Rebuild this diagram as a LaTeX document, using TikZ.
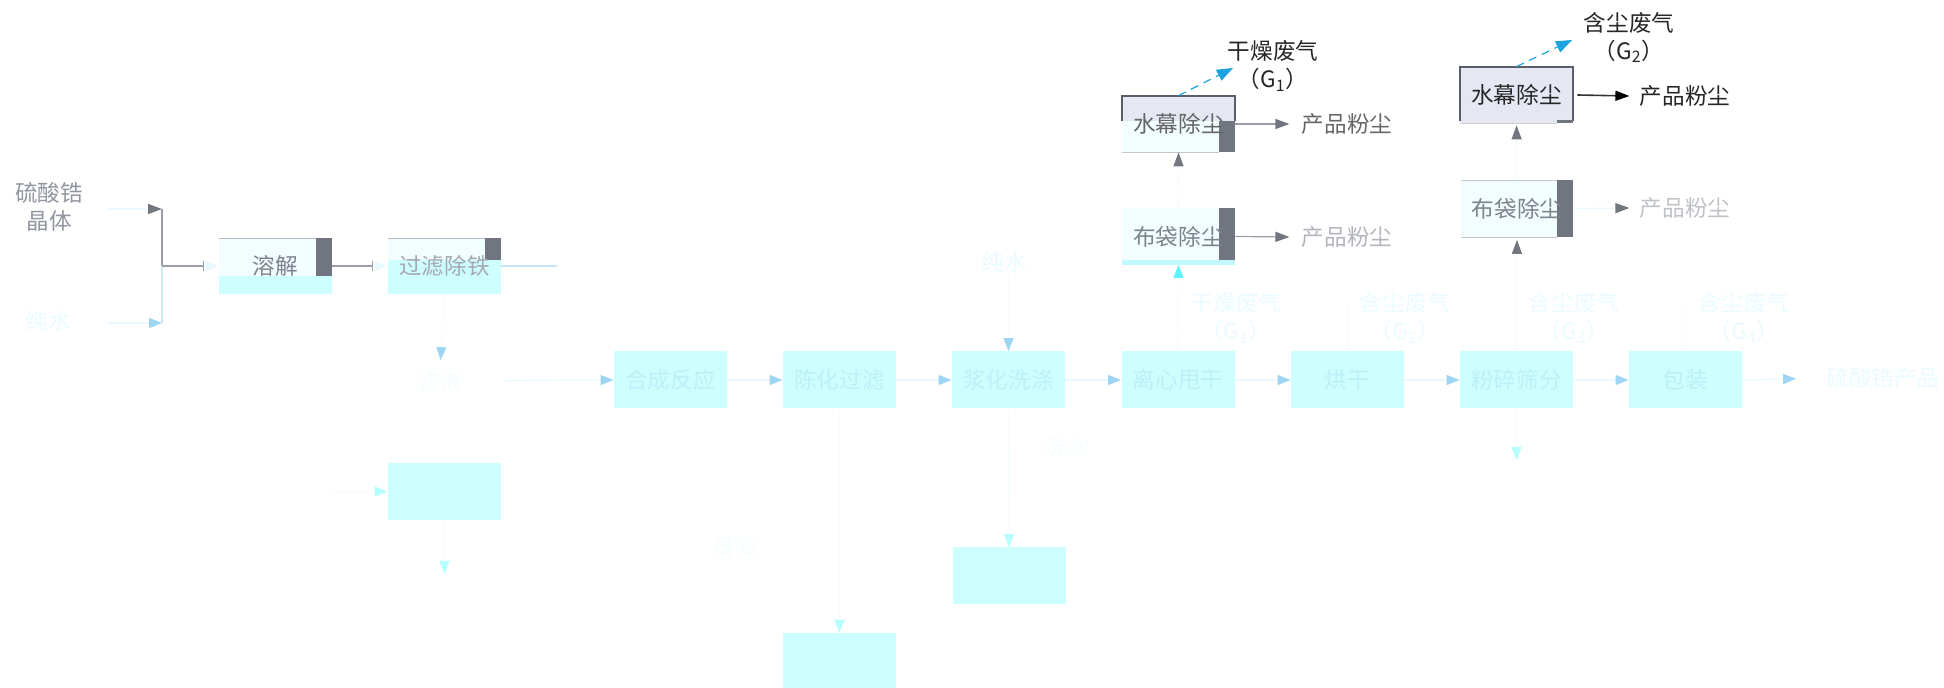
\documentclass[tikz,border=0pt]{standalone}
\usepackage{fontspec}
\newfontfamily\cjk{Noto Sans CJK SC}
\usetikzlibrary{arrows.meta,calc}
\pgfdeclarelayer{bg}
\pgfsetlayers{bg,main}
\definecolor{cyanbox}{HTML}{CEFFFF}
\definecolor{palefill}{HTML}{F2FDFF}
\definecolor{darkrect}{HTML}{71757F}
\definecolor{graytext}{HTML}{7E828E}
\definecolor{boxtext}{HTML}{BDEFF9}
\definecolor{whitetext}{HTML}{EAFBFF}
\definecolor{faintest}{HTML}{F5FDFF}
\definecolor{arrowblue}{HTML}{9DD5F2}
\definecolor{arrowcyan}{HTML}{B5FFFF}
\definecolor{brightcyan}{HTML}{5EF4FF}
\definecolor{dashblue}{HTML}{1AA3E0}
\definecolor{wmfill}{HTML}{E5E8F3}
\definecolor{wmborder}{HTML}{5B5E68}
\definecolor{paleline}{HTML}{EAF9FF}
\definecolor{grayline}{HTML}{9A9EA8}
\definecolor{tipgray}{HTML}{72767F}
\definecolor{stripcyan}{HTML}{C4F8FF}
\tikzset{
  txt/.style={font=\cjk\fontsize{11.3}{14}\selectfont, inner sep=0pt, align=center},
  mbox/.style={txt, minimum width=56.5pt, minimum height=28.5pt, fill=cyanbox, text=boxtext},
  tbox/.style={txt, minimum width=56.5pt, minimum height=28pt},
  pl/.style={draw=paleline, line width=0.6pt},
  fl/.style={draw=faintest, line width=0.6pt},
  gl/.style={draw=grayline, line width=0.6pt},
  tb/.style={-{Triangle[length=6.5pt,width=5pt,color=arrowblue]}},
  tc/.style={-{Triangle[length=6.5pt,width=5pt,color=arrowcyan]}},
  tp/.style={-{Triangle[length=6.5pt,width=5pt,color=paleline]}},
  tbc/.style={-{Triangle[length=6.5pt,width=5pt,color=brightcyan]}},
  tg/.style={-{Triangle[length=7pt,width=5pt,color=tipgray]}},
  tk/.style={-{Triangle[length=7pt,width=5pt,color=black]}},
  tbar/.style={-{Bar[width=5pt,color=grayline]}},
  dashb/.style={draw=dashblue, dashed, dash pattern=on 4pt off 3pt, line width=0.6pt, -{Triangle[length=8pt,width=6pt,color=dashblue]}}
}
\begin{document}
\begin{tikzpicture}[x=0.5pt,y=-0.5pt]
\useasboundingbox (0,0) rectangle (1944,688);

% ---------- left inputs ----------
\node[txt, text=graytext!85] (s1) at (49,207) {硫酸锆\\晶体};
\node[txt, text=whitetext] (pw) at (48,321) {纯水};
\coordinate (a1) at (107,209);
\coordinate (a2) at (107,323);
\coordinate (v1) at (162,209);
\coordinate (v2) at (162,323);
\coordinate (j) at (162,266);
\coordinate (bar1) at (204,266);
\coordinate (bar2) at (373,266);

% ---------- top-left boxes ----------
\begin{pgfonlayer}{bg}
  \fill[cyanbox] (219,238) rectangle (332,294);
  \fill[palefill] (219,238) rectangle (332,276);
  \fill[darkrect] (316,238) rectangle (332,276);
  \draw[grayline!70] (219,238) -- (316,238);
  \fill[cyanbox] (388,238) rectangle (501,294);
  \fill[palefill] (388,238) rectangle (501,260);
  \fill[darkrect] (485,238) rectangle (501,260);
  \draw[grayline!70] (388,238) -- (485,238);
\end{pgfonlayer}
\node[tbox, text=graytext] (rj) at (275.5,266) {溶解};
\node[tbox, text=graytext!70] (gl) at (444.5,266) {过滤除铁};
\coordinate (glx) at (557,266);

\draw[pl, tg] (a1) -- (v1);
\draw[pl, tb] (a2) -- (v2);
\draw[gl] (v1) -- (j);
\draw[draw=arrowblue!50, line width=0.6pt] (j) -- (v2);
\draw[gl, tbar] (j) -- (bar1);
\draw[fl, tp] (bar1) -- (rj.west);
\draw[gl, tbar] (rj.east) -- (bar2);
\draw[fl, tp] (bar2) -- (gl.west);
\draw[draw=arrowblue!60, line width=0.6pt] (gl.east) -- (glx);

% ---------- main row ----------
\node[txt, text=faintest] (lq) at (440,381) {滤液};
\node[mbox] (b1) at (670.5,380) {合成反应};
\node[mbox] (b2) at (839.5,380) {陈化过滤};
\node[mbox] (b3) at (1008.5,380) {浆化洗涤};
\node[mbox] (b4) at (1178,380) {离心甩干};
\node[mbox] (b5) at (1347.5,380) {烘干};
\node[mbox] (b6) at (1516.5,380) {粉碎筛分};
\node[mbox] (b7) at (1685.5,380) {包装};
\node[txt, text=whitetext] (prod) at (1883,378) {硫酸锆产品};

\draw[fl, tb, shorten >=5pt] (gl.south) -- (lq.north);
\draw[pl, tb, shorten <=20pt] (lq.east) -- (b1.west);
\draw[pl, tb] (b1) -- (b2);
\draw[pl, tb] (b2) -- (b3);
\draw[pl, tb] (b3) -- (b4);
\draw[pl, tb] (b4) -- (b5);
\draw[pl, tb] (b5) -- (b6);
\draw[pl, tb] (b6) -- (b7);
\draw[pl, tb, shorten >=15pt] (b7.east) -- (prod.west);

\node[txt, text=whitetext] (pw2) at (1004,262) {纯水};
\draw[fl, tb] (b3.north |- pw2.south) -- (b3.north);

% labels above main row
\node[txt, text=whitetext] (lb4) at (1236,318) {干燥废气\\（G\textsubscript{1}）};
\node[txt, text=whitetext] (lb5) at (1405,318) {含尘废气\\（G\textsubscript{2}）};
\node[txt, text=whitetext] (lb6) at (1574,318) {含尘废气\\（G\textsubscript{3}）};
\node[txt, text=whitetext] (lb7) at (1744,318) {含尘废气\\（G\textsubscript{4}）};
\coordinate (t5) at (1347.5,300);
\coordinate (t7) at (1685.5,300);
\draw[fl] (b5.north) -- (t5);
\draw[fl] (b7.north) -- (t7);

% ---------- top-left dust removal ----------
\begin{pgfonlayer}{bg}
  \fill[palefill] (1122,96) rectangle (1235,152);
  \fill[wmfill] (1122,96) rectangle (1235,121);
  \draw[wmborder, line width=0.8pt] (1122,121) -- (1122,96) -- (1235,96) -- (1235,121);
  \fill[darkrect] (1219,121) rectangle (1235,152);
  \draw[grayline!60] (1122,152) -- (1219,152);
  \fill[palefill] (1122,208) rectangle (1235,265);
  \fill[darkrect] (1219,208) rectangle (1235,260);
  \fill[stripcyan] (1122,260) rectangle (1235,265);
\end{pgfonlayer}
\node[tbox, text=black!60] (wm1) at (1178.5,124) {水幕除尘};
\node[txt, text=black!60] (pd1) at (1347,124) {产品粉尘};
\node[tbox, text=graytext] (bd1) at (1178.5,236.5) {布袋除尘};
\node[txt, text=graytext!60] (pd2) at (1347,237) {产品粉尘};
\node[txt, text=black!85] (g1) at (1273,66) {干燥废气\\（G\textsubscript{1}）};
\coordinate (g1t) at (1233,68);

\draw[dashb] (wm1.north) -- (g1t);
\draw[gl, tg] (wm1.east) -- ([xshift=-6pt]pd1.west);
\draw[gl, tg] (bd1.east) -- ([xshift=-6pt]pd2.west);
\draw[pl, dashed, tg] (bd1.north) -- (wm1.south);
\draw[fl, tbc] (b4.north) -- (bd1.south);

% ---------- top-right dust removal ----------
\begin{pgfonlayer}{bg}
  \fill[wmfill] (1460,67) rectangle (1573,123);
  \draw[wmborder, line width=0.8pt] (1460,121) -- (1460,67) -- (1573,67) -- (1573,121);
  \draw[grayline!50] (1460,123) -- (1557,123);
  \fill[darkrect] (1557,120) rectangle (1573,123);
  \fill[palefill] (1461,180) rectangle (1573,237);
  \draw[grayline!60] (1461,180) -- (1557,180);
  \draw[grayline!60] (1461,237) -- (1557,237);
  \fill[darkrect] (1557,180) rectangle (1573,237);
\end{pgfonlayer}
\node[tbox, text=black!85] (wm2) at (1516.5,95) {水幕除尘};
\node[txt, text=black!85] (pd3) at (1685,96) {产品粉尘};
\node[tbox, text=graytext] (bd2) at (1517,208.5) {布袋除尘};
\node[txt, text=graytext!50] (pd4) at (1685,208) {产品粉尘};
\node[txt, text=black!85] (g2) at (1629,37.5) {含尘废气\\（G\textsubscript{2}）};
\coordinate (g2t) at (1572,40);

\draw[dashb] (wm2.north) -- (g2t);
\draw[draw=black!80, line width=0.8pt, tk] ([xshift=2pt]wm2.east) -- ([xshift=-5pt]pd3.west);
\draw[pl, tg] (bd2.east) -- ([xshift=-5pt]pd4.west);
\draw[fl, tg, shorten >=1pt] (bd2.north) -- (wm2.south);
\draw[fl, tg, shorten >=1.5pt] (b6.north) -- (bd2.south);

% ---------- lower branches ----------
\node[mbox] (lb) at (444.5,491.5) {};
\coordinate (lbin) at (330,492);
\coordinate (lbout) at (444.5,574);
\draw[fl, tc] (lbin) -- (lb.west);
\draw[fl, tc] (lb.south) -- (lbout);

\node[txt, text=faintest] (t2) at (735,547) {母液};
\node[mbox, minimum height=27.5pt] (bb2) at (839.5,660.5) {};
\draw[fl, tc] (b2.south) -- (bb2.north);

\node[txt, text=faintest] (t3) at (1067,447) {洗水};
\node[mbox] (bb3) at (1009,576) {};
\draw[fl, tc] (b3.south) -- (bb3.north);

\coordinate (b6out) at (1516.5,460);
\draw[fl, tc] (b6.south) -- (b6out);
\end{tikzpicture}
\end{document}
